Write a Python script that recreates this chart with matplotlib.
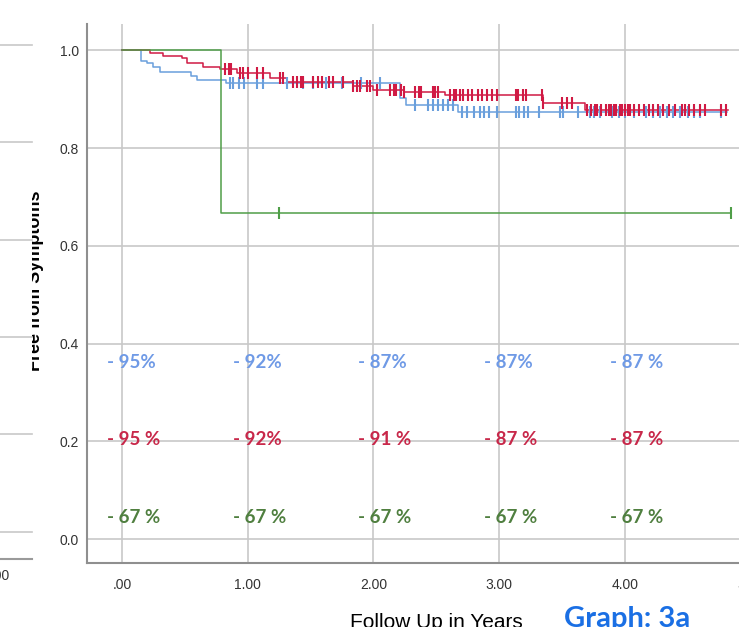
"""Kaplan-Meier style plot: freedom from symptoms over follow up (graph 3a)"""
import matplotlib
matplotlib.use("Agg")
import matplotlib.pyplot as plt
import matplotlib.patches as mpatches
import numpy as np

# step curves: times where the estimate changes, and the estimate from that time on
blue_times = [0, 0.148, 0.196, 0.244, 0.302, 0.546, 0.594, 0.83, 2.21, 2.26, 2.67, 4.81]
blue_surv = [1.0, 0.978, 0.973, 0.965, 0.956, 0.948, 0.939, 0.932, 0.902, 0.889, 0.874, 0.874]
blue_censor = [0.86, 0.88, 0.93, 0.97, 1.07, 1.12, 1.31, 1.44, 1.52, 1.62, 1.75, 1.90, 2.05,
               2.33, 2.43, 2.47, 2.51, 2.55, 2.59, 2.63, 2.70, 2.74, 2.80, 2.85, 2.88, 2.92,
               2.98, 3.13, 3.16, 3.20, 3.23, 3.32, 3.48, 3.51, 3.63, 3.72, 3.75, 3.80, 3.90,
               3.95, 4.00, 4.07, 4.17, 4.22, 4.28, 4.33, 4.38, 4.44, 4.50, 4.55, 4.60, 4.76]

red_times = [0, 0.223, 0.329, 0.474, 0.52, 0.641, 0.779, 0.912, 1.177, 1.31, 1.84, 2.0,
             2.24, 2.57, 3.35, 3.68, 4.82]
red_surv = [1.0, 0.994, 0.989, 0.984, 0.973, 0.965, 0.961, 0.953, 0.943, 0.936, 0.926,
            0.919, 0.914, 0.908, 0.893, 0.878, 0.878]
red_censor = [0.82, 0.85, 0.87, 0.94, 0.965, 1.005, 1.07, 1.12, 1.26, 1.28, 1.36, 1.39,
              1.42, 1.44, 1.52, 1.56, 1.59, 1.65, 1.68, 1.76, 1.84, 1.87, 1.89, 1.95, 1.97,
              2.03, 2.13, 2.16, 2.18, 2.22, 2.24, 2.33, 2.36, 2.38, 2.47, 2.49, 2.51, 2.61,
              2.64, 2.66, 2.69, 2.71, 2.75, 2.78, 2.83, 2.86, 2.90, 2.94, 2.98, 3.13, 3.15,
              3.19, 3.21, 3.34, 3.35, 3.50, 3.54, 3.58, 3.70, 3.73, 3.76, 3.78, 3.81, 3.85,
              3.87, 3.89, 3.91, 3.93, 3.96, 3.98, 4.00, 4.02, 4.04, 4.07, 4.11, 4.15, 4.19,
              4.22, 4.26, 4.30, 4.35, 4.40, 4.45, 4.48, 4.51, 4.55, 4.60, 4.64, 4.76, 4.80]

green_times = [0, 0.787, 4.84]
green_surv = [1.0, 0.667, 0.667]
green_censor = [1.25, 4.84]

# percentages written under the curves at each whole year
years = [0, 1, 2, 3, 4]
blue_pct = ["- 95%", "- 92%", "- 87%", "- 87%", "- 87 %"]
red_pct = ["- 95 %", "- 92%", "- 91 %", "- 87 %", "- 87 %"]
green_pct = ["- 67 %", "- 67 %", "- 67 %", "- 67 %", "- 67 %"]

BLUE = "#6a9fdc"
RED = "#d01a44"
GREEN = "#4f9e48"


def censor_levels(times, surv, censor):
    idx = np.searchsorted(times, censor, side="right") - 1
    return np.asarray(surv)[idx]


fig = plt.figure(figsize=(7.39, 6.27), dpi=100)
ax = fig.add_axes([87 / 739, 64 / 627, 701.5 / 739, 539 / 627])
ax.set_xlim(-0.278, 5.3)
ax.set_ylim(-0.049, 1.0537)

ax.set_xticks([0, 1, 2, 3, 4, 5])
ax.set_xticklabels([".00", "1.00", "2.00", "3.00", "4.00", "5.00"])
ax.set_yticks([0, 0.2, 0.4, 0.6, 0.8, 1.0])
ax.set_yticklabels(["0.0", "0.2", "0.4", "0.6", "0.8", "1.0"])
ax.tick_params(length=0, labelsize=10, labelcolor="#333333")
ax.tick_params(axis="x", pad=11)
ax.tick_params(axis="y", pad=6)
for lab in ax.get_xticklabels() + ax.get_yticklabels():
    lab.set_family("Liberation Sans")

ax.grid(True, color="#c8c8c8", lw=1.2)
ax.set_axisbelow(True)
for side in ["top", "right"]:
    ax.spines[side].set_visible(False)
for side in ["left", "bottom"]:
    ax.spines[side].set_color("#8f8f8f")
    ax.spines[side].set_linewidth(1.5)

curves = [
    (blue_times, blue_surv, blue_censor, BLUE),
    (red_times, red_surv, red_censor, RED),
    (green_times, green_surv, green_censor, GREEN),
]
for times, surv, censor, col in curves:
    ax.step(times, surv, where="post", color=col, lw=1.1, zorder=3)
    ax.plot(censor, censor_levels(times, surv, censor), ls="none", marker="|",
            ms=8, mew=1.5, color=col, zorder=4)

rows = [(blue_pct, 0.362, "#6f9ae6"), (red_pct, 0.203, "#c8284a"), (green_pct, 0.045, "#4f7f3f")]
for labels, yv, col in rows:
    for yr, txt in zip(years, labels):
        ax.text(yr - 0.12, yv, txt, color=col, fontsize=13.5, fontweight="bold",
                family="Lato", ha="left", va="center", zorder=5)

fig.text(40 / 739, 1 - 281 / 627, "Free from Symptoms", rotation=90, rotation_mode="anchor",
         ha="center", va="baseline", fontsize=13, fontweight="bold", family="Liberation Sans")

# neighbouring panel on the left, covering part of the y label
fig.patches.append(mpatches.Rectangle((0, 0), 32 / 739, 1, transform=fig.transFigure,
                                      facecolor="white", edgecolor="none", zorder=10))
for yp in [45, 142, 240, 337, 434, 532]:
    fig.add_artist(plt.Line2D([0, 32 / 739], [1 - yp / 627] * 2, color="#c8c8c8", lw=1.2,
                              zorder=11))
fig.add_artist(plt.Line2D([0, 32 / 739], [1 - 559 / 627] * 2, color="#9a9a9a", lw=1.5,
                          zorder=11))
fig.text(10 / 739, 1 - 576 / 627, ".00", ha="right", va="center", fontsize=10,
         color="#333333", family="Liberation Sans", zorder=12)

fig.text(436 / 739, 1 - 622 / 627, "Follow Up in Years", ha="center", va="center",
         fontsize=15, family="Liberation Sans", color="black")
fig.text(627 / 739, 1 - 619 / 627, "Graph: 3a", ha="center", va="center",
         fontsize=21, fontweight="bold", family="Lato", color="#1a6fe4")

fig.savefig("out.png", dpi=100)
